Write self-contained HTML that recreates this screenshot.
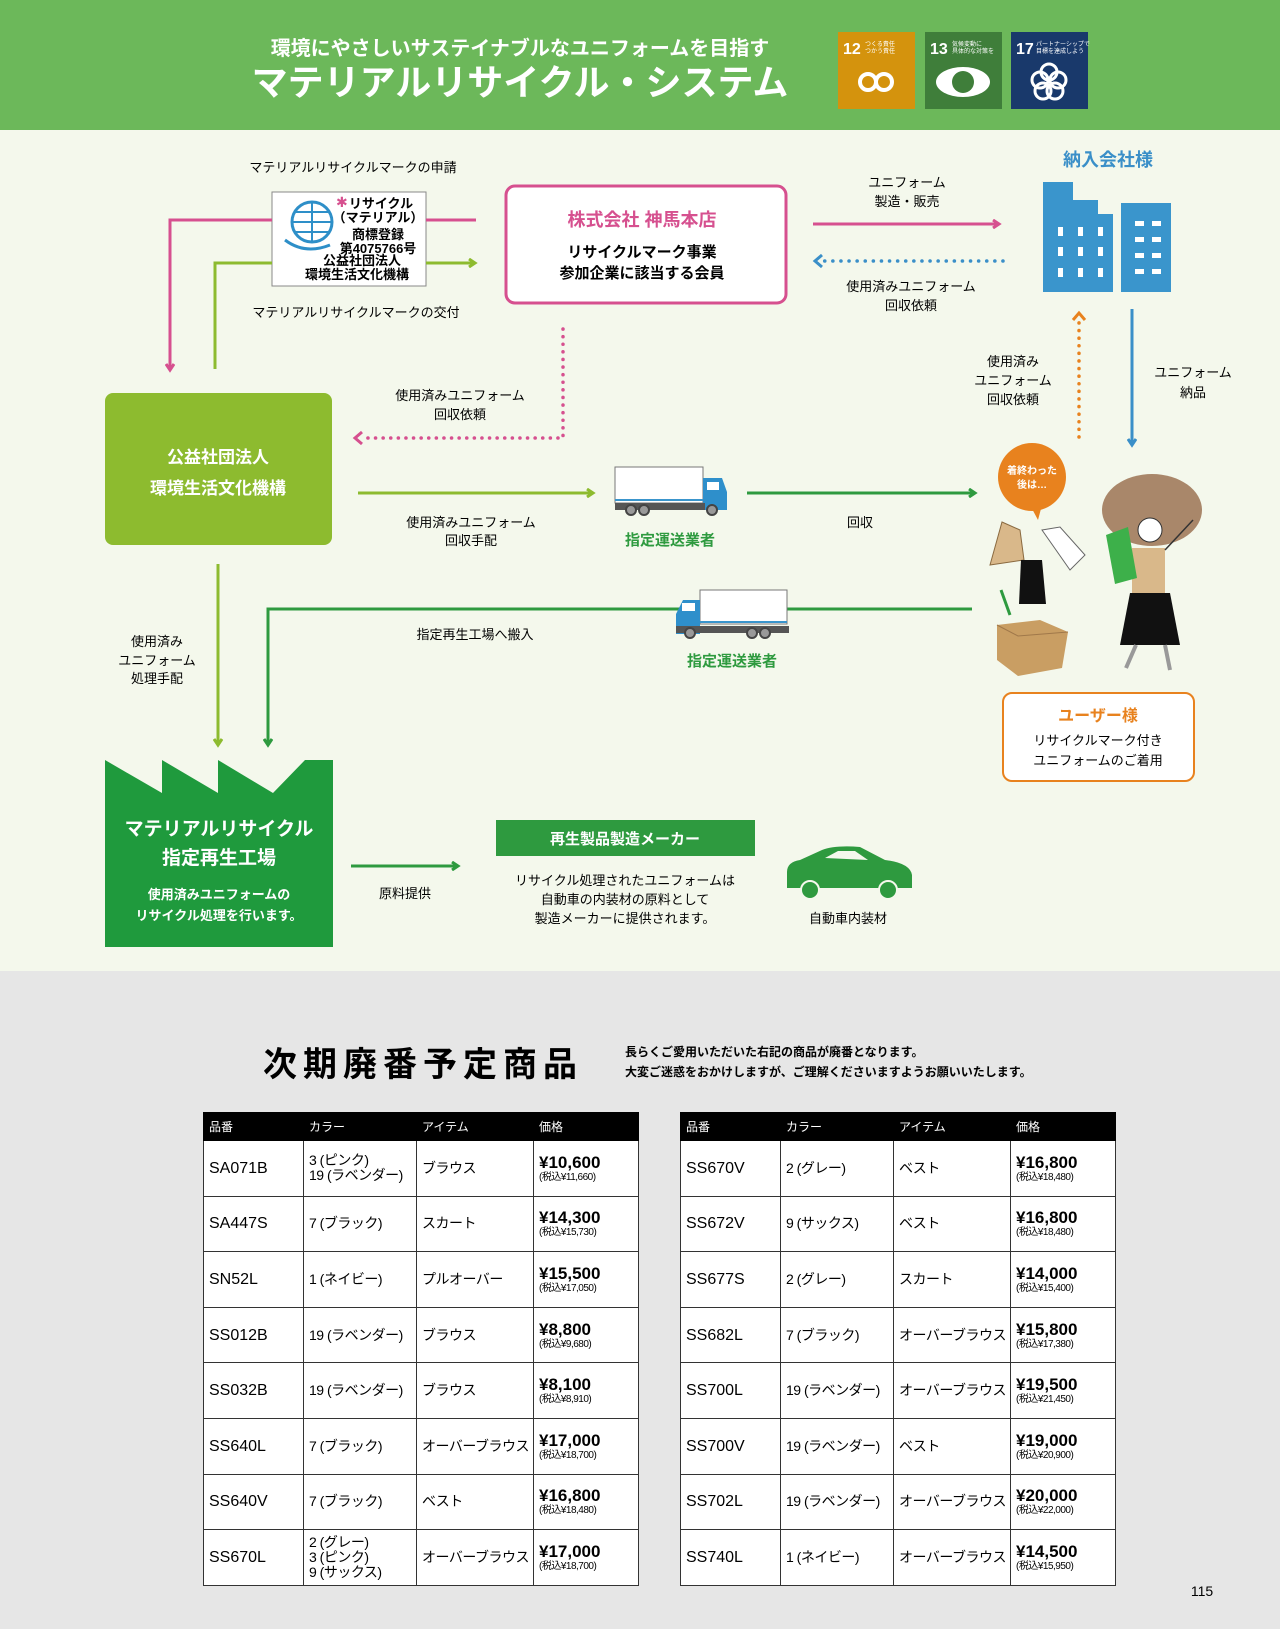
<!DOCTYPE html>
<html><head><meta charset="utf-8"><style>
*{margin:0;padding:0;box-sizing:border-box}
body{width:1280px;height:1629px;position:relative;background:#e6e6e6;font-family:"Liberation Sans","Noto Sans CJK JP",sans-serif;overflow:hidden}
svg{position:absolute;left:0;top:0}
table{position:absolute;border-collapse:collapse;background:#fff;font-family:"Liberation Sans","Noto Sans CJK JP",sans-serif;table-layout:fixed}
td,th{border:1px solid #333;padding:0 5px;text-align:left;vertical-align:middle;white-space:nowrap;overflow:hidden}
th{background:#000;color:#fff;font-weight:normal;font-size:12px;height:28px;border-color:#000}
td{height:55.6px;font-size:14px;line-height:15px;letter-spacing:-0.5px}
td.c{font-size:16px;letter-spacing:0}
td.p b{font-size:17px;display:block;line-height:18px;letter-spacing:0}
td.p span{font-size:10px;display:block;line-height:11px}
</style></head><body>
<svg width="1280" height="1629" viewBox="0 0 1280 1629" font-family="Liberation Sans, Noto Sans CJK JP, sans-serif">
<defs>
<marker id="ap" markerWidth="10" markerHeight="10" refX="6" refY="5" orient="auto" markerUnits="userSpaceOnUse"><path d="M1,1 L7,5 L1,9" fill="none" stroke="#d6508f" stroke-width="3"/></marker>
<marker id="al" markerWidth="10" markerHeight="10" refX="6" refY="5" orient="auto" markerUnits="userSpaceOnUse"><path d="M1,1 L7,5 L1,9" fill="none" stroke="#8dbb2f" stroke-width="3"/></marker>
<marker id="ag" markerWidth="10" markerHeight="10" refX="6" refY="5" orient="auto" markerUnits="userSpaceOnUse"><path d="M1,1 L7,5 L1,9" fill="none" stroke="#2e9a3f" stroke-width="3"/></marker>
<marker id="ab" markerWidth="10" markerHeight="10" refX="6" refY="5" orient="auto" markerUnits="userSpaceOnUse"><path d="M1,1 L7,5 L1,9" fill="none" stroke="#3a8fc8" stroke-width="3"/></marker>
</defs>
<rect x="0" y="0" width="1280" height="130" fill="#6cb85a"/>
<rect x="0" y="130" width="1280" height="841" fill="#f4f8ec"/>
<text x="520" y="55" text-anchor="middle" fill="#fff" font-size="20" font-weight="bold">環境にやさしいサステイナブルなユニフォームを目指す</text>
<text x="520" y="95" text-anchor="middle" fill="#fff" font-size="36" font-weight="bold">マテリアルリサイクル・システム</text>
<rect x="838" y="32" width="77" height="77" fill="#d4930d"/>
<rect x="925" y="32" width="77" height="77" fill="#3f7e3a"/>
<rect x="1011" y="32" width="77" height="77" fill="#19396b"/>
<text x="843" y="54" fill="#fff" font-size="16" font-weight="bold">12</text>
<text x="930" y="54" fill="#fff" font-size="16" font-weight="bold">13</text>
<text x="1016" y="54" fill="#fff" font-size="16" font-weight="bold">17</text>
<text x="865" y="46" fill="#fff" font-size="6">つくる責任</text><text x="865" y="53" fill="#fff" font-size="6">つかう責任</text>
<text x="952" y="46" fill="#fff" font-size="6">気候変動に</text><text x="952" y="53" fill="#fff" font-size="6">具体的な対策を</text>
<text x="1036" y="46" fill="#fff" font-size="6">パートナーシップで</text><text x="1036" y="53" fill="#fff" font-size="6">目標を達成しよう</text>
<circle cx="868" cy="82" r="8" fill="none" stroke="#fff" stroke-width="4"/><circle cx="884" cy="82" r="8" fill="none" stroke="#fff" stroke-width="4"/>
<ellipse cx="963" cy="82" rx="27" ry="15" fill="#fff"/><circle cx="963" cy="82" r="11" fill="#3f7e3a"/>
<g fill="none" stroke="#fff" stroke-width="3"><circle cx="1049" cy="72" r="8"/><circle cx="1040" cy="80" r="8"/><circle cx="1058" cy="80" r="8"/><circle cx="1043" cy="91" r="8"/><circle cx="1055" cy="91" r="8"/></g>

<text x="353" y="172" text-anchor="middle" font-size="13">マテリアルリサイクルマークの申請</text>
<text x="356" y="317" text-anchor="middle" font-size="13">マテリアルリサイクルマークの交付</text>
<rect x="272" y="192" width="154" height="94" fill="#fff" stroke="#888"/>
<circle cx="312" cy="222" r="20" fill="none" stroke="#2e8fc8" stroke-width="3"/>
<path d="M292,222 h40 M312,202 v40 M296,212 h32 M296,232 h32" stroke="#2e8fc8" stroke-width="2"/>
<path d="M285,240 q20,15 45,5" fill="none" stroke="#2e8fc8" stroke-width="3"/>
<text x="336" y="207" fill="#d6508f" font-size="14">✱</text>
<g font-size="13" font-weight="bold" text-anchor="middle">
<text x="381" y="208">リサイクル</text><text x="378" y="222">（マテリアル）</text>
<text x="378" y="239">商標登録</text><text x="378" y="253">第4075766号</text>
<text x="362" y="265">公益社団法人</text><text x="357" y="279">環境生活文化機構</text></g>
<path d="M272,220 H170 V369" fill="none" stroke="#d6508f" stroke-width="3" marker-end="url(#ap)"/>
<path d="M426,220 H476" stroke="#d6508f" stroke-width="3"/>
<path d="M215,369 V263 H272" fill="none" stroke="#8dbb2f" stroke-width="3"/>
<path d="M426,263 H474" stroke="#8dbb2f" stroke-width="3" marker-end="url(#al)"/>

<rect x="506" y="186" width="280" height="117" rx="9" fill="#fff" stroke="#d6508f" stroke-width="3"/>
<text x="642" y="226" text-anchor="middle" fill="#d6508f" font-size="18" font-weight="bold">株式会社 神馬本店</text>
<text x="642" y="257" text-anchor="middle" font-size="15" font-weight="bold">リサイクルマーク事業</text>
<text x="642" y="278" text-anchor="middle" font-size="15" font-weight="bold">参加企業に該当する会員</text>

<text x="907" y="187" text-anchor="middle" font-size="13">ユニフォーム</text>
<text x="907" y="206" text-anchor="middle" font-size="13">製造・販売</text>
<path d="M813,224 H998" stroke="#d6508f" stroke-width="3" marker-end="url(#ap)"/>
<path d="M1003,261 H822" stroke="#3a8fc8" stroke-width="3.5" stroke-dasharray="0.1 8" stroke-linecap="round"/>
<path d="M822,255 L815,261 L822,267" fill="none" stroke="#3a8fc8" stroke-width="3"/>
<text x="911" y="291" text-anchor="middle" font-size="13">使用済みユニフォーム</text>
<text x="911" y="310" text-anchor="middle" font-size="13">回収依頼</text>
<text x="1108" y="166" text-anchor="middle" fill="#3a8fc8" font-size="18" font-weight="bold">納入会社様</text>
<path d="M1043,182 H1073 V200 H1098 V214 H1113 V292 H1043 Z" fill="#3a95cc"/>
<rect x="1121" y="203" width="50" height="89" fill="#3a95cc"/>
<g fill="#fff"><rect x="1058" y="227" width="5" height="9"/><rect x="1078" y="227" width="5" height="9"/><rect x="1098" y="227" width="5" height="9"/>
<rect x="1058" y="247" width="5" height="9"/><rect x="1078" y="247" width="5" height="9"/><rect x="1098" y="247" width="5" height="9"/>
<rect x="1058" y="268" width="5" height="9"/><rect x="1078" y="268" width="5" height="9"/><rect x="1098" y="268" width="5" height="9"/>
<rect x="1135" y="221" width="9" height="5"/><rect x="1152" y="221" width="9" height="5"/><rect x="1135" y="237" width="9" height="5"/><rect x="1152" y="237" width="9" height="5"/>
<rect x="1135" y="253" width="9" height="5"/><rect x="1152" y="253" width="9" height="5"/><rect x="1135" y="269" width="9" height="5"/><rect x="1152" y="269" width="9" height="5"/></g>
<path d="M1132,309 V444" stroke="#3a8fc8" stroke-width="3" marker-end="url(#ab)"/>
<text x="1193" y="377" text-anchor="middle" font-size="13">ユニフォーム</text>
<text x="1193" y="397" text-anchor="middle" font-size="13">納品</text>
<path d="M1079,437 V320" stroke="#e8821e" stroke-width="3.5" stroke-dasharray="0.1 7.5" stroke-linecap="round"/>
<path d="M1073,320 L1079,313 L1085,320" fill="none" stroke="#e8821e" stroke-width="3"/>
<text x="1013" y="366" text-anchor="middle" font-size="13">使用済み</text>
<text x="1013" y="385" text-anchor="middle" font-size="13">ユニフォーム</text>
<text x="1013" y="404" text-anchor="middle" font-size="13">回収依頼</text>

<path d="M563,329 V438 H362" fill="none" stroke="#d6508f" stroke-width="3.5" stroke-dasharray="0.1 7.5" stroke-linecap="round"/>
<path d="M362,432 L355,438 L362,444" fill="none" stroke="#d6508f" stroke-width="3"/>
<text x="460" y="400" text-anchor="middle" font-size="13">使用済みユニフォーム</text>
<text x="460" y="419" text-anchor="middle" font-size="13">回収依頼</text>
<rect x="105" y="393" width="227" height="152" rx="8" fill="#8dbb2f"/>
<text x="218" y="463" text-anchor="middle" fill="#fff" font-size="17" font-weight="bold">公益社団法人</text>
<text x="218" y="494" text-anchor="middle" fill="#fff" font-size="17" font-weight="bold">環境生活文化機構</text>
<path d="M358,493 H592" stroke="#8dbb2f" stroke-width="3" marker-end="url(#al)"/>
<text x="471" y="527" text-anchor="middle" font-size="13">使用済みユニフォーム</text>
<text x="471" y="545" text-anchor="middle" font-size="13">回収手配</text>
<rect x="615" y="467" width="88" height="36" fill="#fff" stroke="#777"/>
<rect x="615" y="499" width="88" height="2" fill="#3a95cc"/>
<path d="M703,478 H722 L727,492 V510 H703 Z" fill="#2e8fcb"/>
<rect x="707" y="482" width="12" height="8" fill="#fff"/>
<rect x="615" y="503" width="90" height="7" fill="#555"/>
<g fill="#999" stroke="#444" stroke-width="2"><circle cx="631" cy="510" r="5"/><circle cx="644" cy="510" r="5"/><circle cx="712" cy="510" r="5"/></g>
<text x="670" y="545" text-anchor="middle" fill="#2e9a3f" font-size="15" font-weight="bold">指定運送業者</text>
<path d="M747,493 H974" stroke="#2e9a3f" stroke-width="3" marker-end="url(#ag)"/>
<text x="860" y="527" text-anchor="middle" font-size="13">回収</text>

<circle cx="1032" cy="477" r="34" fill="#e8821e"/>
<path d="M1030,505 L1038,520 L1042,505 Z" fill="#e8821e"/>
<text x="1032" y="474" text-anchor="middle" fill="#fff" font-size="10" font-weight="bold">着終わった</text>
<text x="1032" y="488" text-anchor="middle" fill="#fff" font-size="10" font-weight="bold">後は…</text>
<path d="M1002,522 L1020,530 L1024,560 L990,565 Z" fill="#d9b88a" stroke="#8a6a40"/>
<path d="M1042,530 L1060,527 L1085,555 L1070,570 Z" fill="#fff" stroke="#666"/>
<path d="M1021,560 H1042 L1046,604 H1019 Z" fill="#111"/>
<path d="M1001,590 L1010,615" stroke="#2e9a3f" stroke-width="3"/>
<path d="M997,625 L1040,620 L1068,632 L1062,668 L1018,676 L997,660 Z" fill="#c99e63"/>
<path d="M997,625 L1018,636 L1068,632" fill="none" stroke="#a0784a"/>
<ellipse cx="1152" cy="510" rx="50" ry="36" fill="#a9876a"/>
<circle cx="1150" cy="530" r="12" fill="#fff" stroke="#333"/>
<path d="M1132,548 H1165 V595 H1132 Z" fill="#d9b88a"/>
<path d="M1106,535 L1128,527 L1137,578 L1115,584 Z" fill="#3db04a"/>
<path d="M1130,593 H1170 L1180,645 H1120 Z" fill="#111"/>
<path d="M1136,645 L1126,668 M1165,645 L1170,670" stroke="#999" stroke-width="4"/>
<path d="M1165,550 L1193,520" stroke="#333" stroke-width="1.5"/>

<rect x="1003" y="693" width="191" height="88" rx="9" fill="#fff" stroke="#e8821e" stroke-width="2"/>
<text x="1098" y="721" text-anchor="middle" fill="#e8821e" font-size="16" font-weight="bold">ユーザー様</text>
<text x="1098" y="745" text-anchor="middle" font-size="13">リサイクルマーク付き</text>
<text x="1098" y="765" text-anchor="middle" font-size="13">ユニフォームのご着用</text>

<path d="M972,609 H268 V744" fill="none" stroke="#2e9a3f" stroke-width="3" marker-end="url(#ag)"/>
<rect x="700" y="590" width="87" height="34" fill="#fff" stroke="#777"/>
<rect x="700" y="621" width="87" height="2" fill="#3a95cc"/>
<path d="M700,600 H683 L676,614 V634 H700 Z" fill="#2e8fcb"/>
<rect x="682" y="603" width="13" height="8" fill="#fff"/>
<rect x="676" y="626" width="113" height="7" fill="#555"/>
<g fill="#999" stroke="#444" stroke-width="2"><circle cx="690" cy="633" r="5"/><circle cx="752" cy="633" r="5"/><circle cx="765" cy="633" r="5"/></g>
<text x="475" y="639" text-anchor="middle" font-size="13">指定再生工場へ搬入</text>
<text x="732" y="666" text-anchor="middle" fill="#2e9a3f" font-size="15" font-weight="bold">指定運送業者</text>
<path d="M218,564 V744" stroke="#8dbb2f" stroke-width="3" marker-end="url(#al)"/>
<text x="157" y="646" text-anchor="middle" font-size="13">使用済み</text>
<text x="157" y="665" text-anchor="middle" font-size="13">ユニフォーム</text>
<text x="157" y="683" text-anchor="middle" font-size="13">処理手配</text>
<path d="M105,760 L162,793 V760 L218,793 V760 L273,793 L305,760 H333 V947 H105 Z" fill="#1f9a3d"/>
<text x="219" y="835" text-anchor="middle" fill="#fff" font-size="19" font-weight="bold">マテリアルリサイクル</text>
<text x="219" y="864" text-anchor="middle" fill="#fff" font-size="19" font-weight="bold">指定再生工場</text>
<text x="219" y="899" text-anchor="middle" fill="#fff" font-size="13" font-weight="bold">使用済みユニフォームの</text>
<text x="219" y="920" text-anchor="middle" fill="#fff" font-size="13" font-weight="bold">リサイクル処理を行います。</text>
<path d="M351,866 H457" stroke="#2e9a3f" stroke-width="3" marker-end="url(#ag)"/>
<text x="405" y="898" text-anchor="middle" font-size="13">原料提供</text>
<rect x="496" y="820" width="259" height="36" fill="#2e9a3f"/>
<text x="625" y="844" text-anchor="middle" fill="#fff" font-size="15" font-weight="bold">再生製品製造メーカー</text>
<text x="625" y="885" text-anchor="middle" font-size="13">リサイクル処理されたユニフォームは</text>
<text x="625" y="904" text-anchor="middle" font-size="13">自動車の内装材の原料として</text>
<text x="625" y="923" text-anchor="middle" font-size="13">製造メーカーに提供されます。</text>
<path d="M787,872 Q787,862 800,860 L822,850 Q835,845 860,847 L885,860 Q910,863 912,875 V888 H787 Z" fill="#2e9a3f"/>
<path d="M825,858 L838,851 H855 L868,860 Z" fill="#f4f8ec"/>
<circle cx="810" cy="890" r="9" fill="#2e9a3f" stroke="#f4f8ec" stroke-width="2"/>
<circle cx="888" cy="890" r="9" fill="#2e9a3f" stroke="#f4f8ec" stroke-width="2"/>
<text x="848" y="923" text-anchor="middle" font-size="13">自動車内装材</text>

<text x="423" y="1076" text-anchor="middle" font-size="34" font-weight="bold" letter-spacing="6">次期廃番予定商品</text>
<text x="625" y="1056" font-size="12" font-weight="bold">長らくご愛用いただいた右記の商品が廃番となります。</text>
<text x="625" y="1076" font-size="12" font-weight="bold">大変ご迷惑をおかけしますが、ご理解くださいますようお願いいたします。</text>
<text x="1202" y="1596" text-anchor="middle" font-size="14">115</text>
</svg>

<table style="left:203px;top:1112px;width:435px">
<colgroup><col style="width:100px"><col style="width:113px"><col style="width:117px"><col style="width:105px"></colgroup>
<tr><th>品番</th><th>カラー</th><th>アイテム</th><th>価格</th></tr>
<tr><td class="c">SA071B</td><td>3 (ピンク)<br>19 (ラベンダー)</td><td>ブラウス</td><td class="p"><b>¥10,600</b><span>(税込¥11,660)</span></td></tr>
<tr><td class="c">SA447S</td><td>7 (ブラック)</td><td>スカート</td><td class="p"><b>¥14,300</b><span>(税込¥15,730)</span></td></tr>
<tr><td class="c">SN52L</td><td>1 (ネイビー)</td><td>プルオーバー</td><td class="p"><b>¥15,500</b><span>(税込¥17,050)</span></td></tr>
<tr><td class="c">SS012B</td><td>19 (ラベンダー)</td><td>ブラウス</td><td class="p"><b>¥8,800</b><span>(税込¥9,680)</span></td></tr>
<tr><td class="c">SS032B</td><td>19 (ラベンダー)</td><td>ブラウス</td><td class="p"><b>¥8,100</b><span>(税込¥8,910)</span></td></tr>
<tr><td class="c">SS640L</td><td>7 (ブラック)</td><td>オーバーブラウス</td><td class="p"><b>¥17,000</b><span>(税込¥18,700)</span></td></tr>
<tr><td class="c">SS640V</td><td>7 (ブラック)</td><td>ベスト</td><td class="p"><b>¥16,800</b><span>(税込¥18,480)</span></td></tr>
<tr><td class="c">SS670L</td><td>2 (グレー)<br>3 (ピンク)<br>9 (サックス)</td><td>オーバーブラウス</td><td class="p"><b>¥17,000</b><span>(税込¥18,700)</span></td></tr>
</table>

<table style="left:680px;top:1112px;width:435px">
<colgroup><col style="width:100px"><col style="width:113px"><col style="width:117px"><col style="width:105px"></colgroup>
<tr><th>品番</th><th>カラー</th><th>アイテム</th><th>価格</th></tr>
<tr><td class="c">SS670V</td><td>2 (グレー)</td><td>ベスト</td><td class="p"><b>¥16,800</b><span>(税込¥18,480)</span></td></tr>
<tr><td class="c">SS672V</td><td>9 (サックス)</td><td>ベスト</td><td class="p"><b>¥16,800</b><span>(税込¥18,480)</span></td></tr>
<tr><td class="c">SS677S</td><td>2 (グレー)</td><td>スカート</td><td class="p"><b>¥14,000</b><span>(税込¥15,400)</span></td></tr>
<tr><td class="c">SS682L</td><td>7 (ブラック)</td><td>オーバーブラウス</td><td class="p"><b>¥15,800</b><span>(税込¥17,380)</span></td></tr>
<tr><td class="c">SS700L</td><td>19 (ラベンダー)</td><td>オーバーブラウス</td><td class="p"><b>¥19,500</b><span>(税込¥21,450)</span></td></tr>
<tr><td class="c">SS700V</td><td>19 (ラベンダー)</td><td>ベスト</td><td class="p"><b>¥19,000</b><span>(税込¥20,900)</span></td></tr>
<tr><td class="c">SS702L</td><td>19 (ラベンダー)</td><td>オーバーブラウス</td><td class="p"><b>¥20,000</b><span>(税込¥22,000)</span></td></tr>
<tr><td class="c">SS740L</td><td>1 (ネイビー)</td><td>オーバーブラウス</td><td class="p"><b>¥14,500</b><span>(税込¥15,950)</span></td></tr>
</table>
</body></html>
